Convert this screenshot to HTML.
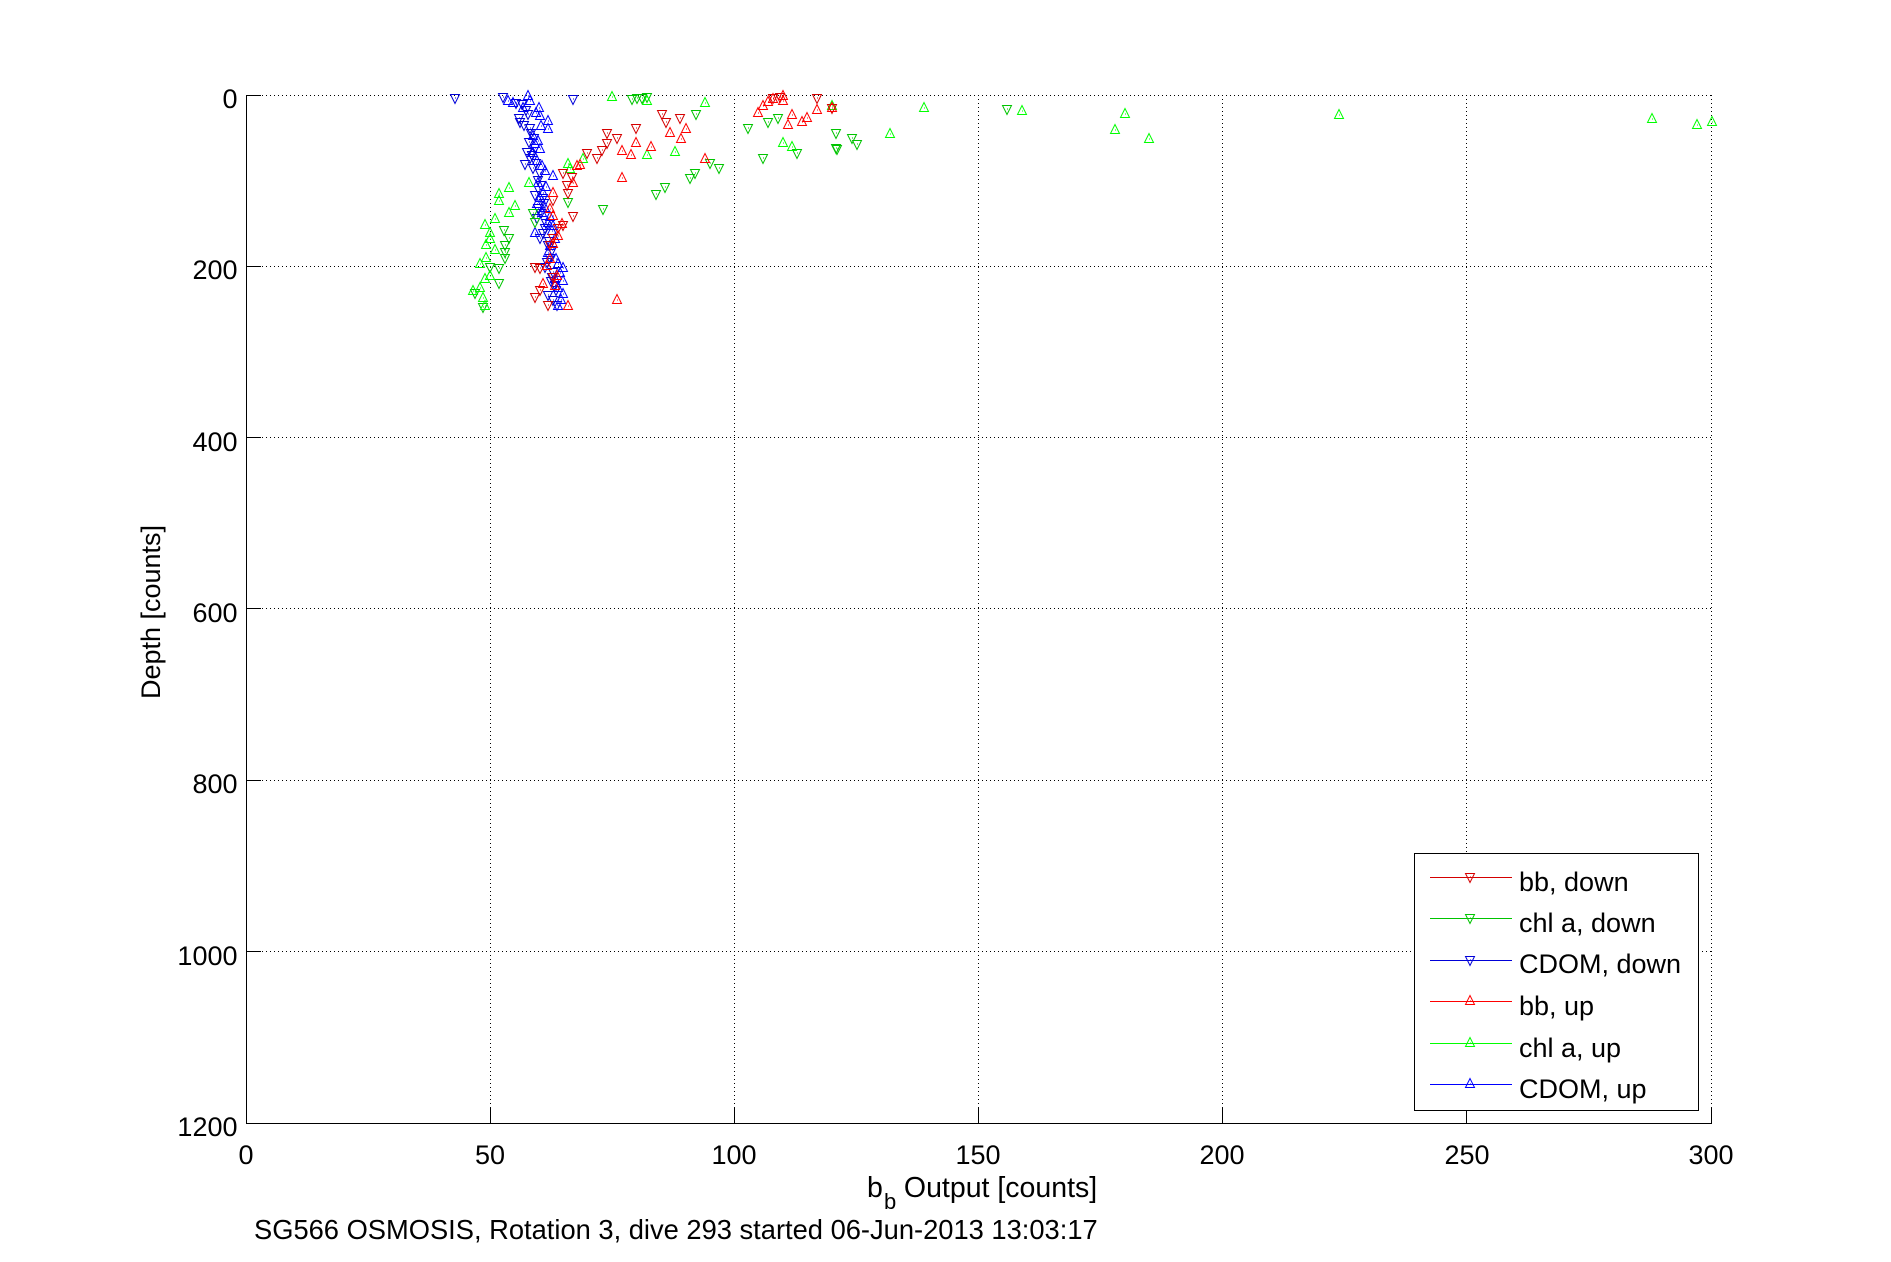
<!DOCTYPE html>
<html>
<head>
<meta charset="utf-8">
<style>
  html, body { margin: 0; padding: 0; background: #fff; }
  body { width: 1891px; height: 1262px; overflow: hidden; }
  svg { display: block; }
  text { font-family: "Liberation Sans", Arial, Helvetica, sans-serif; fill: #000; }
</style>
</head>
<body>
<svg width="1891" height="1262" viewBox="0 0 1891 1262" xmlns="http://www.w3.org/2000/svg">
  <defs>
    <g id="U"><path d="M-4.5,4.5 h9 l-4.5,-9 z" fill="none"/><rect x="0" y="0.5" width="1" height="1" stroke="none" fill="currentColor"/></g>
    <g id="D"><path d="M-4.5,-3.5 h9 l-4.5,9 z" fill="none"/><rect x="0" y="-0.5" width="1" height="1" stroke="none" fill="currentColor"/></g>
  </defs>
  <rect x="0" y="0" width="1891" height="1262" fill="#fff"/>

  <!-- grid -->
  <g stroke="#000" stroke-width="1" stroke-dasharray="1 3" fill="none" shape-rendering="crispEdges">
    <line x1="490.5" y1="95" x2="490.5" y2="1123"/>
    <line x1="734.5" y1="95" x2="734.5" y2="1123"/>
    <line x1="978.5" y1="95" x2="978.5" y2="1123"/>
    <line x1="1222.5" y1="95" x2="1222.5" y2="1123"/>
    <line x1="1466.5" y1="95" x2="1466.5" y2="1123"/>
    <line x1="1711.5" y1="95" x2="1711.5" y2="1123"/>
    <line x1="246" y1="95.5" x2="1711" y2="95.5"/>
    <line x1="246" y1="266.5" x2="1711" y2="266.5"/>
    <line x1="246" y1="437.5" x2="1711" y2="437.5"/>
    <line x1="246" y1="608.5" x2="1711" y2="608.5"/>
    <line x1="246" y1="780.5" x2="1711" y2="780.5"/>
    <line x1="246" y1="951.5" x2="1711" y2="951.5"/>
  </g>

  <!-- axes -->
  <g stroke="#000" stroke-width="1" shape-rendering="crispEdges">
    <line x1="246.5" y1="95" x2="246.5" y2="1124"/>
    <line x1="246" y1="1123.5" x2="1712" y2="1123.5"/>
    <line x1="490.5" y1="1123" x2="490.5" y2="1108"/>
    <line x1="734.5" y1="1123" x2="734.5" y2="1108"/>
    <line x1="978.5" y1="1123" x2="978.5" y2="1108"/>
    <line x1="1222.5" y1="1123" x2="1222.5" y2="1108"/>
    <line x1="1466.5" y1="1123" x2="1466.5" y2="1108"/>
    <line x1="1711.5" y1="1123" x2="1711.5" y2="1108"/>
    <line x1="246" y1="95.5" x2="261" y2="95.5"/>
    <line x1="246" y1="266.5" x2="261" y2="266.5"/>
    <line x1="246" y1="437.5" x2="261" y2="437.5"/>
    <line x1="246" y1="608.5" x2="261" y2="608.5"/>
    <line x1="246" y1="780.5" x2="261" y2="780.5"/>
    <line x1="246" y1="951.5" x2="261" y2="951.5"/>
  </g>

  <!-- tick labels -->
  <g font-size="27" text-anchor="middle">
    <text x="246" y="1164">0</text>
    <text x="490" y="1164">50</text>
    <text x="734" y="1164">100</text>
    <text x="978" y="1164">150</text>
    <text x="1222" y="1164">200</text>
    <text x="1467" y="1164">250</text>
    <text x="1711" y="1164">300</text>
  </g>
  <g font-size="27" text-anchor="end">
    <text x="237.5" y="108">0</text>
    <text x="237.5" y="279">200</text>
    <text x="237.5" y="451">400</text>
    <text x="237.5" y="622">600</text>
    <text x="237.5" y="793">800</text>
    <text x="237.5" y="965">1000</text>
    <text x="237.5" y="1136">1200</text>
  </g>

  <!-- axis labels -->
  <text x="867" y="1197" font-size="28.5">b<tspan x="884" dy="12" font-size="22">b</tspan><tspan x="896" dy="-12"> Output [counts]</tspan></text>
  <text transform="translate(160,612) rotate(-90)" font-size="27" text-anchor="middle">Depth [counts]</text>
  <text x="254" y="1239" font-size="27.3">SG566 OSMOSIS, Rotation 3, dive 293 started 06-Jun-2013 13:03:17</text>

  <!-- CDOM down -->
  <g stroke="#0000d8" color="#0000d8" stroke-width="1">
    <use href="#D" x="455" y="98"/><use href="#D" x="503" y="97"/><use href="#D" x="573" y="99"/>
    <use href="#D" x="519" y="118"/><use href="#D" x="520" y="122"/><use href="#D" x="530" y="128"/>
    <use href="#D" x="534" y="138"/><use href="#D" x="529" y="142"/><use href="#D" x="535" y="148"/>
    <use href="#D" x="530" y="158"/><use href="#D" x="525" y="164"/><use href="#D" x="533" y="168"/>
    <use href="#D" x="540" y="173"/><use href="#D" x="535" y="195"/><use href="#D" x="543" y="198"/>
    <use href="#D" x="538" y="208"/><use href="#D" x="537" y="218"/><use href="#D" x="545" y="228"/>
    <use href="#D" x="540" y="238"/><use href="#D" x="548" y="245"/><use href="#D" x="550" y="258"/>
    <use href="#D" x="545" y="267"/><use href="#D" x="552" y="277"/><use href="#D" x="555" y="285"/>
    <use href="#D" x="548" y="295"/><use href="#D" x="557" y="305"/>
    <use href="#D" x="522" y="104"/><use href="#D" x="526" y="110"/><use href="#D" x="528" y="114"/>
    <use href="#D" x="531" y="133"/><use href="#D" x="527" y="152"/><use href="#D" x="532" y="155"/>
    <use href="#D" x="536" y="163"/><use href="#D" x="538" y="180"/><use href="#D" x="541" y="185"/>
    <use href="#D" x="539" y="190"/><use href="#D" x="544" y="203"/><use href="#D" x="541" y="213"/>
    <use href="#D" x="546" y="223"/><use href="#D" x="543" y="233"/><use href="#D" x="549" y="241"/>
    <use href="#D" x="552" y="250"/><use href="#D" x="547" y="262"/><use href="#D" x="553" y="272"/>
    <use href="#D" x="551" y="281"/><use href="#D" x="556" y="290"/><use href="#D" x="553" y="300"/>
    <use href="#D" x="516" y="103"/><use href="#D" x="524" y="125"/>
  </g>

  <!-- CDOM up -->
  <g stroke="#0000ff" color="#0000ff" stroke-width="1">
    <use href="#U" x="508" y="100"/><use href="#U" x="513" y="102"/><use href="#U" x="528" y="95"/>
    <use href="#U" x="530" y="100"/><use href="#U" x="523" y="107"/><use href="#U" x="539" y="107"/>
    <use href="#U" x="540" y="115"/><use href="#U" x="548" y="120"/><use href="#U" x="548" y="128"/>
    <use href="#U" x="533" y="135"/><use href="#U" x="535" y="143"/><use href="#U" x="533" y="152"/>
    <use href="#U" x="545" y="170"/><use href="#U" x="553" y="175"/><use href="#U" x="538" y="182"/>
    <use href="#U" x="543" y="192"/><use href="#U" x="537" y="203"/><use href="#U" x="542" y="212"/>
    <use href="#U" x="548" y="222"/><use href="#U" x="553" y="225"/><use href="#U" x="535" y="232"/>
    <use href="#U" x="555" y="238"/><use href="#U" x="548" y="252"/><use href="#U" x="558" y="263"/>
    <use href="#U" x="563" y="267"/><use href="#U" x="555" y="278"/><use href="#U" x="563" y="280"/>
    <use href="#U" x="563" y="293"/><use href="#U" x="558" y="305"/>
    <use href="#U" x="536" y="112"/><use href="#U" x="541" y="125"/><use href="#U" x="538" y="140"/>
    <use href="#U" x="540" y="148"/><use href="#U" x="537" y="160"/><use href="#U" x="542" y="165"/>
    <use href="#U" x="546" y="186"/><use href="#U" x="540" y="197"/><use href="#U" x="545" y="207"/>
    <use href="#U" x="550" y="216"/><use href="#U" x="552" y="230"/><use href="#U" x="550" y="245"/>
    <use href="#U" x="556" y="258"/><use href="#U" x="560" y="272"/><use href="#U" x="558" y="287"/>
    <use href="#U" x="561" y="299"/>
  </g>

  <!-- chl a down -->
  <g stroke="#00c400" color="#00c400" stroke-width="1">
    <use href="#D" x="632" y="99"/><use href="#D" x="637" y="98"/><use href="#D" x="642" y="98"/>
    <use href="#D" x="647" y="97"/><use href="#D" x="696" y="114"/><use href="#D" x="748" y="128"/>
    <use href="#D" x="768" y="122"/><use href="#D" x="778" y="118"/><use href="#D" x="763" y="158"/>
    <use href="#D" x="797" y="153"/><use href="#D" x="836" y="133"/><use href="#D" x="836" y="148"/>
    <use href="#D" x="710" y="163"/><use href="#D" x="719" y="168"/><use href="#D" x="695" y="173"/>
    <use href="#D" x="690" y="178"/><use href="#D" x="665" y="187"/><use href="#D" x="656" y="194"/>
    <use href="#D" x="603" y="209"/><use href="#D" x="852" y="138"/><use href="#D" x="857" y="144"/>
    <use href="#D" x="837" y="149"/><use href="#D" x="1007" y="109"/>
    <use href="#D" x="533" y="213"/><use href="#D" x="535" y="222"/><use href="#D" x="504" y="230"/>
    <use href="#D" x="509" y="238"/><use href="#D" x="505" y="245"/><use href="#D" x="505" y="252"/>
    <use href="#D" x="505" y="258"/><use href="#D" x="490" y="267"/><use href="#D" x="499" y="268"/>
    <use href="#D" x="499" y="283"/><use href="#D" x="475" y="293"/><use href="#D" x="483" y="307"/>
    <use href="#D" x="568" y="202"/>
  </g>

  <!-- chl a up -->
  <g stroke="#00ff00" color="#00ff00" stroke-width="1">
    <use href="#U" x="612" y="96"/><use href="#U" x="705" y="102"/><use href="#U" x="647" y="100"/>
    <use href="#U" x="675" y="151"/><use href="#U" x="647" y="154"/><use href="#U" x="783" y="142"/>
    <use href="#U" x="792" y="146"/><use href="#U" x="832" y="105"/><use href="#U" x="924" y="107"/>
    <use href="#U" x="890" y="133"/><use href="#U" x="1022" y="110"/><use href="#U" x="1125" y="113"/>
    <use href="#U" x="1115" y="129"/><use href="#U" x="1149" y="138"/><use href="#U" x="1339" y="114"/>
    <use href="#U" x="1652" y="118"/><use href="#U" x="1697" y="124"/><use href="#U" x="1712" y="121"/>
    <use href="#U" x="568" y="163"/><use href="#U" x="583" y="158"/><use href="#U" x="529" y="182"/>
    <use href="#U" x="509" y="187"/><use href="#U" x="499" y="193"/><use href="#U" x="499" y="200"/>
    <use href="#U" x="515" y="205"/><use href="#U" x="509" y="212"/><use href="#U" x="495" y="218"/>
    <use href="#U" x="485" y="224"/><use href="#U" x="490" y="232"/><use href="#U" x="490" y="238"/>
    <use href="#U" x="486" y="244"/><use href="#U" x="495" y="249"/><use href="#U" x="486" y="257"/>
    <use href="#U" x="480" y="263"/><use href="#U" x="490" y="275"/><use href="#U" x="485" y="278"/>
    <use href="#U" x="480" y="287"/><use href="#U" x="473" y="290"/><use href="#U" x="483" y="297"/>
    <use href="#U" x="485" y="305"/><use href="#U" x="570" y="168"/>
  </g>

  <!-- bb down -->
  <g stroke="#d40000" color="#d40000" stroke-width="1">
    <use href="#D" x="607" y="133"/><use href="#D" x="617" y="138"/><use href="#D" x="607" y="143"/>
    <use href="#D" x="602" y="150"/><use href="#D" x="636" y="128"/><use href="#D" x="662" y="114"/>
    <use href="#D" x="666" y="122"/><use href="#D" x="680" y="118"/><use href="#D" x="773" y="98"/>
    <use href="#D" x="780" y="97"/><use href="#D" x="817" y="98"/><use href="#D" x="832" y="108"/>
    <use href="#D" x="597" y="158"/><use href="#D" x="587" y="153"/><use href="#D" x="563" y="173"/>
    <use href="#D" x="572" y="177"/><use href="#D" x="567" y="185"/><use href="#D" x="568" y="193"/>
    <use href="#D" x="553" y="200"/><use href="#D" x="573" y="216"/><use href="#D" x="563" y="225"/>
    <use href="#D" x="558" y="228"/><use href="#D" x="553" y="238"/><use href="#D" x="550" y="245"/>
    <use href="#D" x="535" y="267"/><use href="#D" x="540" y="268"/><use href="#D" x="553" y="277"/>
    <use href="#D" x="540" y="290"/><use href="#D" x="535" y="297"/><use href="#D" x="548" y="305"/>
  </g>

  <!-- bb up -->
  <g stroke="#ff0000" color="#ff0000" stroke-width="1">
    <use href="#U" x="622" y="150"/><use href="#U" x="631" y="154"/><use href="#U" x="636" y="142"/>
    <use href="#U" x="651" y="146"/><use href="#U" x="670" y="132"/><use href="#U" x="681" y="138"/>
    <use href="#U" x="686" y="128"/><use href="#U" x="705" y="158"/><use href="#U" x="622" y="177"/>
    <use href="#U" x="617" y="299"/><use href="#U" x="758" y="112"/><use href="#U" x="763" y="105"/>
    <use href="#U" x="768" y="101"/><use href="#U" x="773" y="98"/><use href="#U" x="783" y="95"/>
    <use href="#U" x="783" y="100"/><use href="#U" x="792" y="114"/><use href="#U" x="788" y="124"/>
    <use href="#U" x="802" y="121"/><use href="#U" x="807" y="117"/><use href="#U" x="817" y="109"/>
    <use href="#U" x="832" y="107"/><use href="#U" x="577" y="165"/><use href="#U" x="580" y="164"/>
    <use href="#U" x="573" y="182"/><use href="#U" x="553" y="192"/><use href="#U" x="550" y="208"/>
    <use href="#U" x="553" y="215"/><use href="#U" x="562" y="223"/><use href="#U" x="558" y="235"/>
    <use href="#U" x="553" y="243"/><use href="#U" x="550" y="258"/><use href="#U" x="547" y="265"/>
    <use href="#U" x="557" y="275"/><use href="#U" x="555" y="285"/><use href="#U" x="543" y="283"/>
    <use href="#U" x="568" y="305"/>
  </g>

  <!-- legend -->
  <rect x="1414.5" y="853.5" width="284" height="257" fill="#fff" stroke="#000" stroke-width="1" shape-rendering="crispEdges"/>
  <g stroke-width="1" shape-rendering="crispEdges">
    <line x1="1430" y1="877.5" x2="1512" y2="877.5" stroke="#d40000"/>
    <line x1="1430" y1="918.5" x2="1512" y2="918.5" stroke="#00c400"/>
    <line x1="1430" y1="960.5" x2="1512" y2="960.5" stroke="#0000d8"/>
    <line x1="1430" y1="1001.5" x2="1512" y2="1001.5" stroke="#ff0000"/>
    <line x1="1430" y1="1043.5" x2="1512" y2="1043.5" stroke="#00ff00"/>
    <line x1="1430" y1="1084.5" x2="1512" y2="1084.5" stroke="#0000ff"/>
  </g>
  <use href="#D" x="1470" y="877" stroke="#d40000" color="#d40000"/>
  <use href="#D" x="1470" y="918" stroke="#00c400" color="#00c400"/>
  <use href="#D" x="1470" y="960" stroke="#0000d8" color="#0000d8"/>
  <use href="#U" x="1470" y="1000" stroke="#ff0000" color="#ff0000"/>
  <use href="#U" x="1470" y="1042" stroke="#00ff00" color="#00ff00"/>
  <use href="#U" x="1470" y="1083" stroke="#0000ff" color="#0000ff"/>
  <g font-size="27">
    <text x="1519" y="891">bb, down</text>
    <text x="1519" y="932">chl a, down</text>
    <text x="1519" y="973">CDOM, down</text>
    <text x="1519" y="1015">bb, up</text>
    <text x="1519" y="1057">chl a, up</text>
    <text x="1519" y="1098">CDOM, up</text>
  </g>
</svg>
</body>
</html>
